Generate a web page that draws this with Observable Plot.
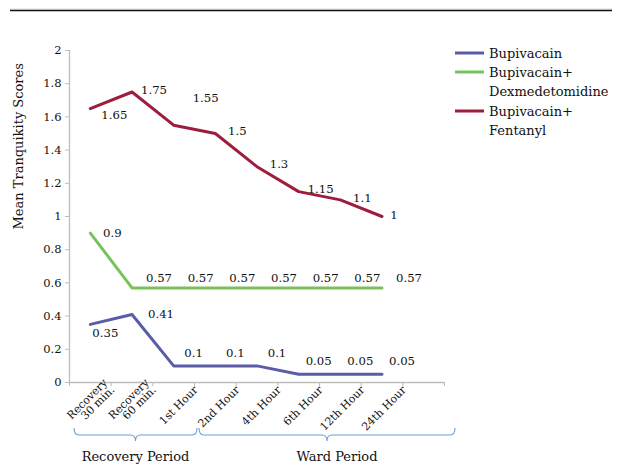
<!DOCTYPE html>
<html><head><meta charset="utf-8">
<script src="https://cdn.jsdelivr.net/npm/d3@7"></script>
<script src="https://cdn.jsdelivr.net/npm/@observablehq/plot@0.6"></script>
<style>body{margin:0;background:#fff} #chart{width:628px;height:469px}</style>
</head><body><div id="chart"></div>
<script>
const categories = ["Recovery\n30 min.", "Recovery\n60 min.", "1st Hour", "2nd Hour", "4th Hour", "6th Hour", "12th Hour", "24th Hour"];
const seriesNames = ["Bupivacain", "Bupivacain+\nDexmedetomidine", "Bupivacain+\nFentanyl"];
const bupivacain = [0.35, 0.41, 0.1, 0.1, 0.1, 0.05, 0.05, 0.05];
const dexmedetomidine = [0.9, 0.57, 0.57, 0.57, 0.57, 0.57, 0.57, 0.57];
const fentanyl = [1.65, 1.75, 1.55, 1.5, 1.3, 1.15, 1.1, 1];
const yTicks = [0, 0.2, 0.4, 0.6, 0.8, 1, 1.2, 1.4, 1.6, 1.8, 2];
const periodLabels = ["Recovery Period", "Ward Period"];
const periodSpans = [[0, 2], [3, 8]]; // category index ranges (8 = empty slot)
const yLabel = "Mean Tranquikity Scores";
const colors = ["#5a5ca8", "#78c25b", "#9e1c3c"];

const FONT = "DejaVu Serif";
const nSlots = categories.length + 1; // one empty slot on the right
const boundaries = d3.range(-0.5, nSlots, 1);

const series = [bupivacain, dexmedetomidine, fentanyl];
const rows = series.flatMap((vals, s) => vals.map((v, i) => ({s, i, v})));

// label offsets (style), per series with exceptions
function labelOffset(s, i) {
  if (s === 0) { if (i === 0) return [15, 9]; if (i === 1) return [29, 0]; return [20, -13]; }
  if (s === 1) { if (i === 0) return [22, 0]; return [27, -10]; }
  if (i === 0) return [24, 7];
  if (i === 2) return [32, -27];
  if (i === 7) return [12, -1];
  return [22, -2];
}
const labelMarks = rows.map(r => {
  const [dx, dy] = labelOffset(r.s, r.i);
  return Plot.text([r], {x: "i", y: "v", text: d => String(d.v), dx, dy, fontSize: 11.7, fill: "#111"});
});

const plot = Plot.plot({
  width: 628, height: 469,
  marginLeft: 69, marginRight: 184, marginTop: 50, marginBottom: 87,
  style: {fontFamily: FONT, fontSize: "11px", color: "#111", background: "#fff"},
  x: {type: "linear", domain: [-0.5, nSlots - 0.5]},
  y: {domain: [0, 2]},
  marks: [
    Plot.ruleX([-0.5], {stroke: "#bdbdbd", strokeWidth: 1.3}),
    Plot.ruleY([0], {stroke: "#bdbdbd", strokeWidth: 1.3}),
    Plot.axisY({ticks: yTicks, tickSize: 4, tickPadding: 4, stroke: "#bdbdbd", label: null,
      tickFormat: d => String(+d.toFixed(1)), fontSize: 11.5, fill: "#111"}),
    Plot.axisX({ticks: boundaries, tickSize: 4, stroke: "#bdbdbd", label: null, tickFormat: () => ""}),
    Plot.text(categories, {x: (d, i) => i + 0.5, frameAnchor: "bottom", rotate: -45, textAnchor: "end",
      dy: 8, dx: 4, fontSize: 11, lineHeight: 0.92, fill: "#111"}),
    Plot.text([yLabel], {frameAnchor: "left", rotate: -90, dx: -51, dy: 13, fontSize: 13, fill: "#111"}),
    ...series.map((vals, s) => Plot.line(vals, {x: (d, i) => i, y: d => d, stroke: colors[s], strokeWidth: 3})),
    ...labelMarks
  ]
});

const svg = d3.select(plot);
const x = plot.scale("x");
// top rule
svg.append("line").attr("x1", 10).attr("x2", 612).attr("y1", 9).attr("y2", 9).attr("stroke", "#ddd").attr("stroke-width", 1);
svg.append("line").attr("x1", 10).attr("x2", 612).attr("y1", 10.5).attr("y2", 10.5).attr("stroke", "#111").attr("stroke-width", 1.5);

// period braces
const braceTop = 428, braceMid = 435, braceTip = 441;
periodLabels.forEach((lab, k) => {
  const [a, b] = periodSpans[k];
  const x0 = x.apply(a - 0.5) + 5;
  const x1 = x.apply(b + 0.5) + (k === 1 ? 11 : 3);
  const cx = (x0 + x1) / 2;
  const p = `M${x0},${braceTop} Q${x0},${braceMid} ${x0 + 5},${braceMid} H${cx - 5} Q${cx},${braceMid} ${cx},${braceTip} Q${cx},${braceMid} ${cx + 5},${braceMid} H${x1 - 5} Q${x1},${braceMid} ${x1},${braceTop}`;
  svg.append("path").attr("d", p).attr("fill", "none").attr("stroke", "#6a9fd4").attr("stroke-width", 1.1);
  svg.append("text").attr("x", k === 1 ? cx + 10 : cx).attr("y", 461).attr("text-anchor", "middle")
    .style("font-family", "'DejaVu Serif'").style("font-size", "13px").attr("fill", "#111").text(lab);
});

// legend
const legY = [53, 72, 111];
seriesNames.forEach((name, s) => {
  const y = legY[s];
  svg.append("line").attr("x1", 455).attr("x2", 484).attr("y1", y).attr("y2", y)
    .attr("stroke", colors[s]).attr("stroke-width", 3);
  const t = svg.append("text").attr("x", 489).attr("y", y + 4.5)
    .style("font-family", "'DejaVu Serif'").style("font-size", "13px")
    .attr("fill", "#111").attr("text-anchor", "start");
  name.split("\n").forEach((ln, j) => t.append("tspan").attr("x", 489).attr("dy", j ? 19.5 : 0).text(ln));
});

document.getElementById("chart").appendChild(plot);
</script></body></html>
